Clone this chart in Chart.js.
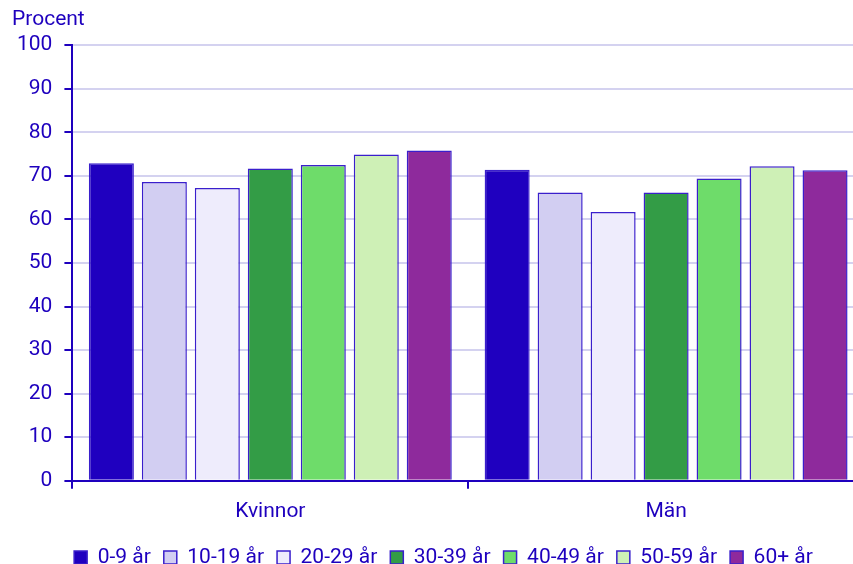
<!DOCTYPE html>
<html>
<head>
<meta charset="utf-8">
<script src="https://cdn.jsdelivr.net/npm/chart.js@4/dist/chart.umd.min.js"></script>
<style>
  html, body { margin: 0; padding: 0; background: #fff; }
  #wrap { width: 853px; height: 564px; overflow: hidden; }
  #chart { display: block; }
</style>
</head>
<body>
<!-- canvas is a bit wider than the page: the right end of the plot is cut off in the original -->
<div id="wrap"><canvas id="chart" width="864" height="564"></canvas></div>
<script>
var categories = ["Kvinnor", "Män"];
var ageGroups = ["0-9 år", "10-19 år", "20-29 år", "30-39 år", "40-49 år", "50-59 år", "60+ år"];
var values0_9   = [72.9, 71.4];
var values10_19 = [68.6, 66.2];
var values20_29 = [67.2, 61.7];
var values30_39 = [71.7, 66.2];
var values40_49 = [72.5, 69.4];
var values50_59 = [74.9, 72.2];
var values60    = [75.8, 71.3];
var yTicks = [0, 10, 20, 30, 40, 50, 60, 70, 80, 90, 100];

var seriesValues = [values0_9, values10_19, values20_29, values30_39, values40_49, values50_59, values60];
var colors = ["#1f00bf", "#d2cef2", "#eeecfc", "#339c46", "#6edc6a", "#cef0b6", "#8e2a9c"];
var textColor = "#1e00be";
var fontSize = 21;

var datasets = [];
for (var i = 0; i < ageGroups.length; i++) {
  datasets.push({
    label: ageGroups[i],
    data: seriesValues[i],
    backgroundColor: colors[i],
    borderColor: "#3a1fcc",
    borderWidth: 1.5,
    borderSkipped: "bottom",
    barPercentage: 0.85,
    categoryPercentage: 0.937
  });
}

// nudge title and legend sideways, chart.js has no x offset for them
var nudge = {
  id: "nudge",
  beforeDraw: function (chart) {
    var t = chart.titleBlock;
    if (t) { t.right += 12 - t.left; t.left = 12; }
    var l = chart.legend;
    if (l) { l.left += 9; l.right += 9; }
  }
};

Chart.defaults.font.family = "Roboto, 'Noto Sans', sans-serif";
Chart.defaults.color = textColor;

new Chart(document.getElementById("chart"), {
  type: "bar",
  data: { labels: categories, datasets: datasets },
  plugins: [nudge],
  options: {
    responsive: false,
    animation: false,
    layout: { padding: { left: 5, right: 0, top: 0, bottom: -14 } },
    plugins: {
      title: {
        display: true,
        text: "Procent",
        align: "start",
        color: textColor,
        font: { size: fontSize, weight: "normal" },
        padding: { top: 7, bottom: 13 }
      },
      legend: {
        position: "bottom",
        labels: {
          color: textColor,
          font: { size: fontSize },
          boxWidth: 13,
          boxHeight: 13,
          padding: 13
        }
      },
      tooltip: { enabled: false }
    },
    scales: {
      x: {
        grid: {
          offset: true,
          drawOnChartArea: false,
          drawTicks: true,
          tickLength: 8,
          color: textColor,
          lineWidth: 2
        },
        border: { color: textColor, width: 2 },
        ticks: { color: textColor, font: { size: fontSize }, padding: 10 }
      },
      y: {
        min: 0,
        max: 100,
        afterBuildTicks: function (axis) {
          axis.ticks = yTicks.map(function (v) { return { value: v }; });
        },
        grid: {
          color: "#d4d2f0",
          lineWidth: 2,
          tickColor: textColor,
          tickLength: 8
        },
        border: { color: textColor, width: 2 },
        ticks: { color: textColor, font: { size: fontSize }, padding: 12 }
      }
    }
  }
});
</script>
</body>
</html>
